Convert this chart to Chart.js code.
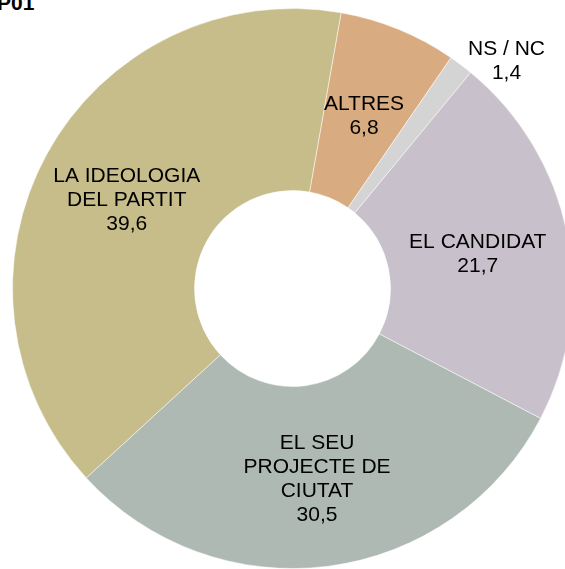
<!DOCTYPE html>
<html>
<head>
<meta charset="utf-8">
<script src="https://cdn.jsdelivr.net/npm/chart.js@4.4.0/dist/chart.umd.min.js"></script>
<style>
  html, body { margin: 0; padding: 0; background: #fff; }
  body { width: 565px; height: 569px; overflow: hidden; position: relative; }
  #title { position: absolute; left: -3px; top: -8px; font: bold 21px "Liberation Sans", Arial, sans-serif; line-height: 21px; color: #000; }
  #chart { position: absolute; left: 12px; top: 8px; }
</style>
</head>
<body>
<div id="title">P01</div>
<canvas id="chart" width="561" height="561"></canvas>
<script>
// Categories and values (clockwise from the top)
const labels = [['ALTRES'], ['NS / NC'], ['EL CANDIDAT'], ['EL SEU', 'PROJECTE DE', 'CIUTAT'], ['LA IDEOLOGIA', 'DEL PARTIT']];
const values = [6.8, 1.4, 21.7, 30.5, 39.6];
const colors = ['#D8AB80', '#D4D4D4', '#C8C0CB', '#ADB9B2', '#C6BD8A'];
const outsideLabels = [false, true, false, false, false];

// Draw the category name and value on each slice
const sliceLabels = {
  id: 'sliceLabels',
  afterDatasetsDraw(chart) {
    const ctx = chart.ctx;
    const arcs = chart.getDatasetMeta(0).data;
    const lineH = 24;
    ctx.save();
    ctx.font = '21px "Liberation Sans", Arial, sans-serif';
    ctx.fillStyle = '#000';
    ctx.textAlign = 'center';
    ctx.textBaseline = 'middle';
    arcs.forEach((arc, i) => {
      const lines = labels[i].concat([values[i].toFixed(1).replace('.', ',')]);
      const mid = (arc.startAngle + arc.endAngle) / 2;
      let x, y;
      if (outsideLabels[i]) {
        // small slice: label sits just outside the outer edge
        const px = arc.x + Math.cos(mid) * arc.outerRadius;
        const py = arc.y + Math.sin(mid) * arc.outerRadius;
        const w = Math.max(...lines.map(l => ctx.measureText(l).width));
        x = px + 7 + w / 2;
        y = py - 4;
      } else {
        const r = (arc.innerRadius + arc.outerRadius) / 2;
        x = arc.x + Math.cos(mid) * r;
        y = arc.y + Math.sin(mid) * r + 3;
      }
      const top = y - (lines.length - 1) * lineH / 2;
      lines.forEach((l, k) => ctx.fillText(l, x, top + k * lineH));
    });
    ctx.restore();
  }
};

new Chart(document.getElementById('chart'), {
  type: 'doughnut',
  data: {
    labels: labels.map(l => l.join(' ')),
    datasets: [{
      data: values,
      backgroundColor: colors,
      borderColor: 'rgba(255,255,255,0.5)',
      borderWidth: 1
    }]
  },
  options: {
    responsive: false,
    animation: false,
    rotation: 10,
    cutout: '35%',
    layout: { padding: 0 },
    plugins: {
      legend: { display: false },
      tooltip: { enabled: false }
    }
  },
  plugins: [sliceLabels]
});
</script>
</body>
</html>
